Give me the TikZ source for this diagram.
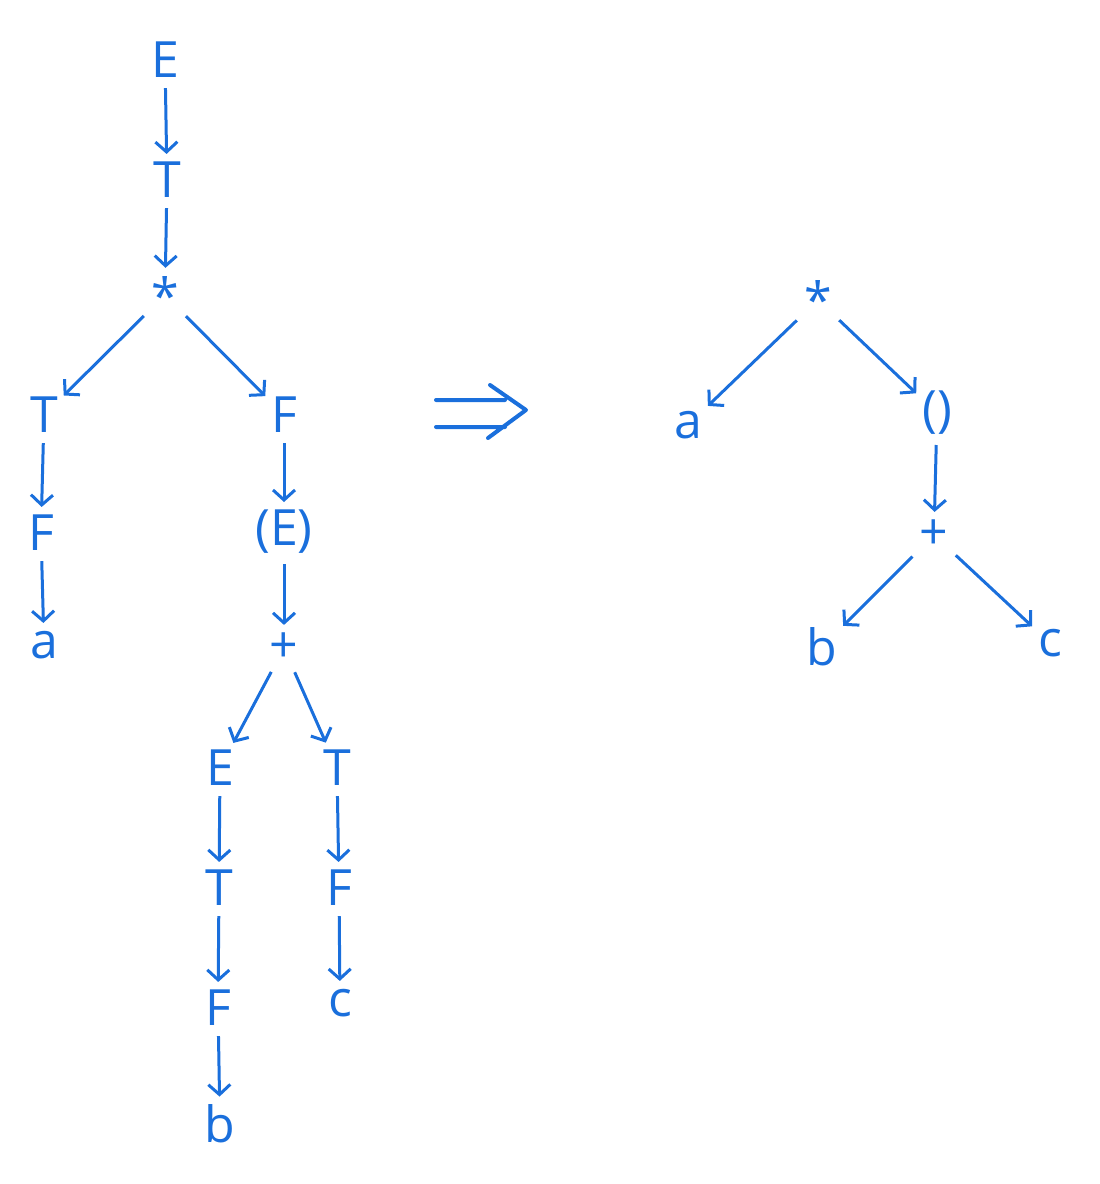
\documentclass[tikz,border=0pt]{standalone}
\usepackage{fontspec}
\setmainfont{Open Sans}
\usetikzlibrary{arrows.meta}
\definecolor{bl}{HTML}{1A6FDC}
\begin{document}
\begin{tikzpicture}[x=1pt,y=-1pt,
  lab/.style={text=bl,inner sep=0pt,font=\fontsize{50}{56}\selectfont},
  ar/.style={draw=bl,line width=3pt,-{Straight Barb[length=10pt,width=22pt,line width=3pt]},shorten <=10pt,shorten >=8pt}]
\useasboundingbox (0,0) rectangle (1100,1184);
\node[lab] (E1) at (165,60) {E};
\node[lab] (T1) at (167,180) {T};
\node[lab] (S1) at (165,295) {*};
\node[lab] (T2) at (44,415) {T};
\node[lab] (F1) at (284,415) {F};
\node[lab] (F2) at (41,533) {F};
\node[lab] (PE) at (284,532) {(E)};
\node[lab] (a1) at (44,645) {a};
\node[lab] (P1) at (284,648) {+};
\node[lab] (E2) at (220,768) {E};
\node[lab] (T3) at (337,768) {T};
\node[lab] (T4) at (219,888) {T};
\node[lab] (F3) at (339,888) {F};
\node[lab] (F4) at (218,1008) {F};
\node[lab] (c1) at (340,1003) {c};
\node[lab] (b1) at (220,1124) {b};
\node[lab] (S2) at (818,300) {*};
\node[lab] (a2) at (688,425) {a};
\node[lab] (PP) at (937,413) {()};
\node[lab] (P2) at (934,535) {+};
\node[lab] (b2) at (822,647) {b};
\node[lab] (c2) at (1050,643) {c};
\foreach \u/\v in {E1/T1,T1/S1,S1/T2,S1/F1,T2/F2,F1/PE,F2/a1,PE/P1,P1/E2,P1/T3,E2/T4,T3/F3,T4/F4,F3/c1,F4/b1,S2/a2,S2/PP,PP/P2,P2/b2,P2/c2}
  \draw[ar] (\u) -- (\v);
\draw[bl,line width=4pt,line cap=round,line join=round] (436,400) -- (505,400) (436,427) -- (505,427)
  (490,385) -- (526,410) -- (488,438);
\end{tikzpicture}
\end{document}
